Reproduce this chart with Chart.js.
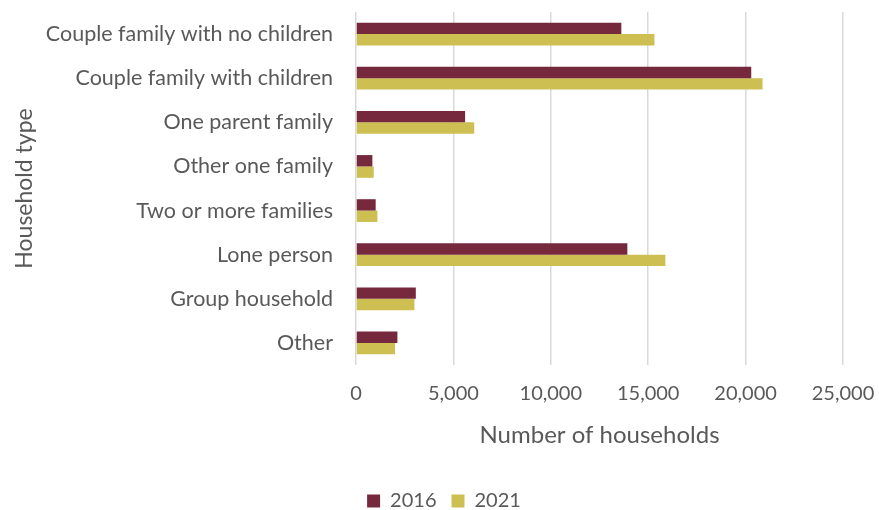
<!DOCTYPE html>
<html>
<head>
<meta charset="utf-8">
<script src="https://cdn.jsdelivr.net/npm/chart.js@4"></script>
<style>
  html, body { margin: 0; padding: 0; background: #fff; }
  #wrap { width: 879px; height: 510px; position: relative; }
</style>
</head>
<body>
<div id="wrap"><canvas id="chart"></canvas></div>
<script>
// Household counts by type, 2016 vs 2021
const householdTypes = [
  'Couple family with no children',
  'Couple family with children',
  'One parent family',
  'Other one family',
  'Two or more families',
  'Lone person',
  'Group household',
  'Other'
];
const households2016 = [13620, 20290, 5600, 840, 1010, 13930, 3070, 2125];
const households2021 = [15320, 20870, 6070, 910, 1100, 15880, 3000, 2005];
const xTicks = [0, 5000, 10000, 15000, 20000, 25000];

const FONT = "Lato, sans-serif";
const TEXT = '#595959';
const PAD_LEFT = 11;
const PLOT_LEFT = 356;
const LEGEND_SHIFT = 17;

// nudge the legend so it sits under the middle of the page rather than the padded box
const legendNudge = {
  id: 'legendNudge',
  afterLayout(chart) {
    chart.legend.left += LEGEND_SHIFT;
    chart.legend.right += LEGEND_SHIFT;
  }
};

new Chart(document.getElementById('chart'), {
  type: 'bar',
  data: {
    labels: householdTypes,
    datasets: [
      { label: '2016', data: households2016, backgroundColor: '#76283c' },
      { label: '2021', data: households2021, backgroundColor: '#cdbf51' }
    ]
  },
  plugins: [legendNudge],
  options: {
    indexAxis: 'y',
    responsive: true,
    maintainAspectRatio: false,
    animation: false,
    layout: { padding: { top: 12, right: 36, left: PAD_LEFT, bottom: -11 } },
    datasets: { bar: { barPercentage: 1, categoryPercentage: 0.515 } },
    scales: {
      x: {
        min: 0,
        max: 25000,
        afterBuildTicks: s => { s.ticks = xTicks.map(v => ({ value: v })); },
        grid: { color: '#d9d9d9', lineWidth: 1.5, drawTicks: false },
        border: { display: false },
        ticks: {
          color: TEXT,
          padding: 17,
          font: { family: FONT, size: 20 },
          callback: v => v.toLocaleString('en-US')
        },
        title: {
          display: true,
          text: 'Number of households',
          color: TEXT,
          font: { family: FONT, size: 24 },
          padding: { top: 10, bottom: 26 }
        },
        afterFit: s => {
          s.height = 111;
          s.paddingLeft = 0;
          s.paddingRight = 0;
        }
      },
      y: {
        grid: { display: false, drawTicks: false },
        border: { display: false },
        ticks: {
          color: TEXT,
          padding: 23,
          font: { family: FONT, size: 21.5 }
        },
        title: {
          display: true,
          text: 'Household type',
          color: TEXT,
          font: { family: FONT, size: 23 },
          padding: 0
        },
        afterFit: s => {
          s.width = PLOT_LEFT - PAD_LEFT;
          s.paddingTop = 0;
          s.paddingBottom = 0;
        }
      }
    },
    plugins: {
      legend: {
        position: 'bottom',
        labels: {
          color: TEXT,
          boxWidth: 13,
          boxHeight: 13,
          padding: 15,
          font: { family: FONT, size: 20 }
        }
      },
      tooltip: { enabled: false }
    }
  }
});
</script>
</body>
</html>
